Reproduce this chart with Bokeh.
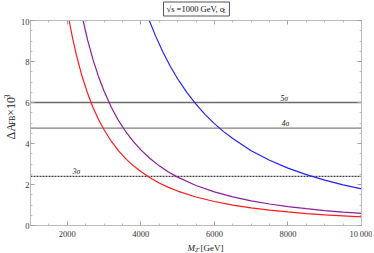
import math
from bokeh.plotting import figure
from bokeh.models import Label, LinearAxis, FixedTicker, Range1d
from bokeh.layouts import column, row
from bokeh.embed import file_html
from bokeh.resources import INLINE

# ---- data ----
red_m = [2050, 2150, 2250, 2400, 2550, 2700, 2850, 3000, 3200, 3400, 3600, 3800, 4000,
         4250, 4500, 4750, 5000, 5500, 6000, 6500, 7000, 7500, 8000, 8500, 9000, 9500, 10000]
red_v = [10.0, 9.09, 8.30, 7.29, 6.46, 5.76, 5.17, 4.67, 4.10, 3.63, 3.24, 2.91, 2.63,
         2.33, 2.07, 1.86, 1.68, 1.39, 1.17, 0.99, 0.86, 0.75, 0.66, 0.58, 0.52, 0.47, 0.42]
purple_m = [2430, 2550, 2700, 2850, 3000, 3200, 3400, 3600, 3800, 4000, 4250, 4500, 4750,
            5000, 5500, 6000, 6500, 7000, 7500, 8000, 8500, 9000, 9500, 10000]
purple_v = [10.0, 9.07, 8.09, 7.26, 6.56, 5.76, 5.10, 4.55, 4.09, 3.69, 3.27, 2.91, 2.61,
            2.36, 1.95, 1.64, 1.40, 1.20, 1.05, 0.92, 0.82, 0.73, 0.65, 0.59]
blue_m = [4230, 4400, 4600, 4800, 5000, 5250, 5500, 5750, 6000, 6250, 6500, 7000, 7500,
          8000, 8500, 9000, 9500, 10000]
blue_v = [10.0, 9.25, 8.46, 7.77, 7.16, 6.49, 5.92, 5.41, 4.97, 4.58, 4.24, 3.65, 3.18,
          2.80, 2.48, 2.21, 1.98, 1.79]

sigma_levels = [6.0, 4.75, 2.4]
sigma_names = ["5σ", "4σ", "3σ"]
sigma_label_x = [7900, 7930, 2250]

x_ticks = [2000, 4000, 6000, 8000, 10000]
x_tick_labels = {10000: "10\u2009000"}
y_ticks = [0, 2, 4, 6, 8, 10]

SERIF = "Liberation Serif"
TXT = "#222222"

W_LEFT = 17      # y-label strip width
W_MAIN = 355     # main figure width
H_TOP = 18       # title strip height
H_MAIN = 223     # main figure height
H_BOT = 11       # x-label strip height


def aux_fig(w, h):
    f = figure(width=w, height=h, output_backend="svg", toolbar_location=None,
               x_range=Range1d(0, w), y_range=Range1d(0, h), min_border=0,
               x_axis_location=None, y_axis_location=None, title_location=None)
    f.grid.visible = False
    f.outline_line_color = None
    f.background_fill_color = "white"
    f.border_fill_color = "white"
    return f


# ---------------- main plot ----------------
p = figure(width=W_MAIN, height=H_MAIN, output_backend="svg", toolbar_location=None,
           x_range=Range1d(1000, 10000), y_range=Range1d(0, 10), title_location=None,
           min_border_left=10, min_border_right=11, min_border_top=2,
           min_border_bottom=15, x_axis_location=None, y_axis_location=None)
p.grid.visible = False
p.outline_line_color = "#bbbbbb"
p.background_fill_color = "white"
p.border_fill_color = "white"


def style_axis(ax, ticks, labels=True, standoff=2):
    step = ticks[1] - ticks[0]
    minors = [ticks[0] + step * k / 4 for k in range(-3, 4 * (len(ticks) - 1) + 1) if k % 4]
    ax.ticker = FixedTicker(ticks=ticks, minor_ticks=minors)
    ax.axis_line_color = "#bbbbbb"
    ax.major_tick_line_color = "#a0a0a0"
    ax.minor_tick_line_color = "#bbbbbb"
    ax.major_tick_in = 4
    ax.major_tick_out = 0
    ax.minor_tick_in = 2
    ax.minor_tick_out = 0
    ax.major_label_text_font = SERIF
    if labels:
        ax.major_label_text_font_size = "8.5px"
        ax.major_label_text_color = "#333333"
        ax.major_label_standoff = standoff
    else:
        ax.major_label_text_font_size = "0px"
        ax.major_label_text_color = None
        ax.major_label_standoff = 0


xb = LinearAxis()
style_axis(xb, x_ticks, standoff=3)
xb.major_label_overrides = x_tick_labels
p.add_layout(xb, "below")
xt = LinearAxis()
style_axis(xt, x_ticks, labels=False)
p.add_layout(xt, "above")
yl = LinearAxis()
style_axis(yl, y_ticks, standoff=1)
p.add_layout(yl, "left")
yr = LinearAxis()
style_axis(yr, y_ticks, labels=False)
p.add_layout(yr, "right")

# sigma lines
p.line(x=[1000, 10000], y=[sigma_levels[0]] * 2, line_color="#6a6a6a", line_width=1.6)
p.line(x=[1000, 10000], y=[sigma_levels[1]] * 2, line_color="#000000", line_width=1.1,
       line_dash="1 1")
p.line(x=[1000, 10000], y=[sigma_levels[2]] * 2, line_color="#111111", line_width=1.0,
       line_dash="2 1")
for name, lx, ly in zip(sigma_names, sigma_label_x, sigma_levels):
    p.add_layout(Label(x=lx, y=ly, text=name, text_font=SERIF, text_font_size="7.5px",
                       text_font_style="italic", text_align="center",
                       text_baseline="bottom", text_color="#111111"))

# curves
p.line(red_m, red_v, line_color="#ff1a1a", line_width=1.2)
p.line(purple_m, purple_v, line_color="#8a1f9e", line_width=1.2)
p.line(blue_m, blue_v, line_color="#2222ff", line_width=1.2)

# ---------------- title strip ----------------
tf = aux_fig(W_LEFT + W_MAIN, H_TOP)
tf.add_layout(Label(x=163, y=9.5, text="√s =1000 GeV, σ\u00a0", text_font=SERIF,
                    text_font_size="8.5px", text_align="left", text_baseline="middle",
                    border_line_color="#555555", border_line_width=1,
                    background_fill_color="white", padding=dict(x=3, y=2),
                    text_color="#111111"))
tf.add_layout(Label(x=222.5, y=7.5, text="L", text_font=SERIF, text_font_style="italic",
                    text_font_size="5.5px", text_align="left", text_baseline="middle",
                    text_color="#111111"))

# ---------------- y label strip ----------------
yf = aux_fig(W_LEFT, H_MAIN)
yc = 10
y0 = 93.5
ang = math.pi / 2
yf.add_layout(Label(x=yc, y=y0, text="ΔA", text_font=SERIF, text_font_size="12px",
                    angle=ang, text_baseline="middle", text_align="left", text_color=TXT))
yf.add_layout(Label(x=yc + 2.2, y=y0 + 16, text="FB", text_font=SERIF,
                    text_font_size="7.5px", angle=ang, text_baseline="middle",
                    text_align="left", text_color=TXT))
yf.add_layout(Label(x=yc, y=y0 + 26, text="×10", text_font=SERIF, text_font_size="12px",
                    angle=ang, text_baseline="middle", text_align="left", text_color=TXT))
yf.add_layout(Label(x=yc - 3.5, y=y0 + 45, text="3", text_font=SERIF, text_font_size="7.5px",
                    angle=ang, text_baseline="middle", text_align="left", text_color=TXT))

# ---------------- x label strip ----------------
xf = aux_fig(W_LEFT + W_MAIN, H_BOT)
xl = 187
xf.add_layout(Label(x=xl, y=5.5, text="M", text_font=SERIF, text_font_style="italic",
                    text_font_size="9px", text_baseline="middle", text_align="left",
                    text_color=TXT))
xf.add_layout(Label(x=xl + 7.5, y=3.5, text="Z′", text_font=SERIF, text_font_style="italic",
                    text_font_size="6px", text_baseline="middle", text_align="left",
                    text_color=TXT))
xf.add_layout(Label(x=xl + 13, y=5.5, text="[GeV]", text_font=SERIF, text_font_size="9px",
                    text_baseline="middle", text_align="left", text_color=TXT))

layout = column(tf, row(yf, p, spacing=0), xf, spacing=0)
open("out.html", "w").write(file_html(layout, INLINE))
